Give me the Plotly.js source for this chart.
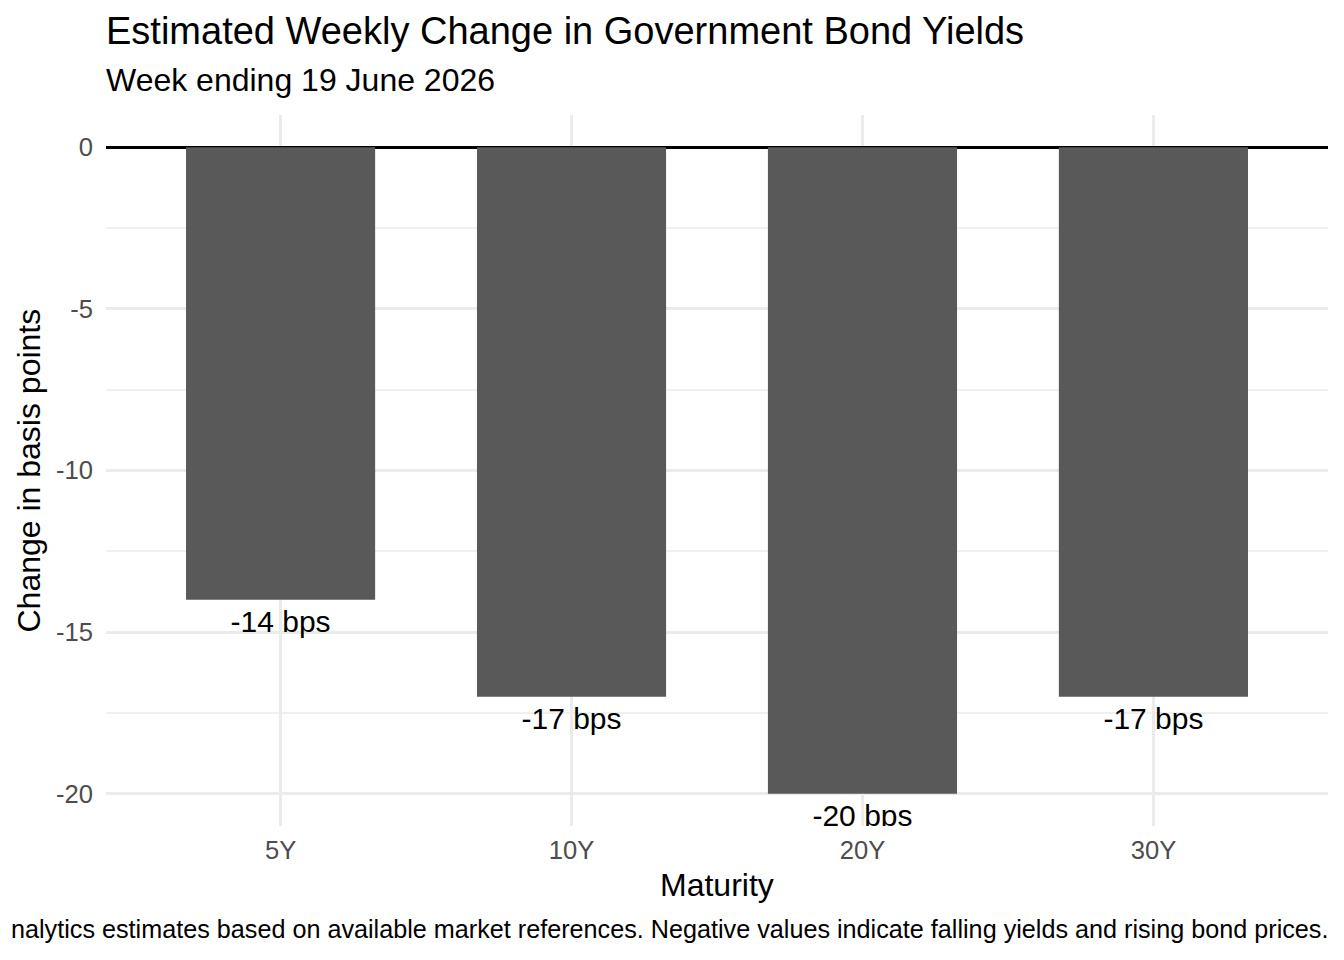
<!DOCTYPE html>
<html>
<head>
<meta charset="utf-8">
<script src="https://cdn.plot.ly/plotly-3.0.1.min.js"></script>
<style>
  html, body { margin: 0; padding: 0; background: #ffffff; }
  #chart { width: 1344px; height: 960px; }
</style>
</head>
<body>
<div id="chart"></div>
<script>
// chart data
const maturities = ['5Y', '10Y', '20Y', '30Y'];
const yieldChange = [-14, -17, -20, -17];
const barLabels = ['-14 bps', '-17 bps', '-20 bps', '-17 bps'];
const yTickVals = [0, -5, -10, -15, -20];
const yTickText = ['0', '-5', '-10', '-15', '-20'];

const FONT = '"Liberation Sans", Arial, Helvetica, sans-serif';
const LABEL_GAP = 0.77; // label sits about one text height below the bar end

const bars = {
  type: 'bar',
  x: maturities,
  y: yieldChange,
  width: 0.65,
  marker: { color: '#595959', line: { width: 0 } },
  hoverinfo: 'skip'
};

const labels = {
  type: 'scatter',
  mode: 'text',
  x: maturities,
  y: yieldChange.map(v => v - LABEL_GAP),
  text: barLabels,
  textposition: 'middle center',
  textfont: { family: FONT, size: 30, color: '#000000' },
  cliponaxis: true,
  hoverinfo: 'skip',
  showlegend: false
};

const layout = {
  width: 1344,
  height: 960,
  margin: { l: 106, r: 16, t: 115, b: 134 },
  paper_bgcolor: '#ffffff',
  plot_bgcolor: '#ffffff',
  showlegend: false,
  font: { family: FONT, color: '#000000' },
  xaxis: {
    type: 'category',
    range: [-0.6, 3.6],
    showgrid: true,
    gridcolor: '#EBEBEB',
    gridwidth: 3,
    showline: false,
    zeroline: false,
    ticks: '',
    ticklabelstandoff: 6,
    tickfont: { family: FONT, size: 25.6, color: '#4D4D4D' },
    fixedrange: true
  },
  yaxis: {
    range: [-21, 1],
    tickvals: yTickVals,
    ticktext: yTickText,
    showgrid: true,
    gridcolor: '#EBEBEB',
    gridwidth: 3,
    minor: { dtick: 2.5, tick0: 0, showgrid: true, gridcolor: '#F0F0F0', gridwidth: 2 },
    zeroline: true,
    zerolinecolor: '#000000',
    zerolinewidth: 3.2,
    layer: 'above traces',
    showline: false,
    ticks: '',
    ticklabelstandoff: 12,
    tickfont: { family: FONT, size: 25.6, color: '#4D4D4D' },
    fixedrange: true
  },
  annotations: [
    {
      text: 'Estimated Weekly Change in Government Bond Yields',
      xref: 'paper', yref: 'paper', x: 0, y: 1,
      xanchor: 'left', yanchor: 'middle', yshift: 84, xshift: -2,
      showarrow: false,
      font: { family: FONT, size: 38, color: '#000000' }
    },
    {
      text: 'Week ending 19 June 2026',
      xref: 'paper', yref: 'paper', x: 0, y: 1,
      xanchor: 'left', yanchor: 'middle', yshift: 35, xshift: -2,
      showarrow: false,
      font: { family: FONT, size: 32, color: '#000000' }
    },
    {
      text: 'Maturity',
      xref: 'paper', yref: 'paper', x: 0.5, y: 0,
      xanchor: 'center', yanchor: 'middle', yshift: -59,
      showarrow: false,
      font: { family: FONT, size: 32, color: '#000000' }
    },
    {
      text: 'Change in basis points',
      xref: 'paper', yref: 'paper', x: 0, y: 0.5,
      xanchor: 'center', yanchor: 'middle', xshift: -78,
      textangle: -90,
      showarrow: false,
      font: { family: FONT, size: 32, color: '#000000' }
    },
    {
      text: 'nalytics estimates based on available market references. Negative values indicate falling yields and rising bond prices.',
      xref: 'paper', yref: 'paper', x: 1, y: 0,
      xanchor: 'right', yanchor: 'middle', yshift: -103, xshift: 2,
      showarrow: false,
      font: { family: FONT, size: 25.2, color: '#000000' }
    }
  ]
};

Plotly.newPlot('chart', [bars, labels], layout, { displayModeBar: false, staticPlot: true });
</script>
</body>
</html>
